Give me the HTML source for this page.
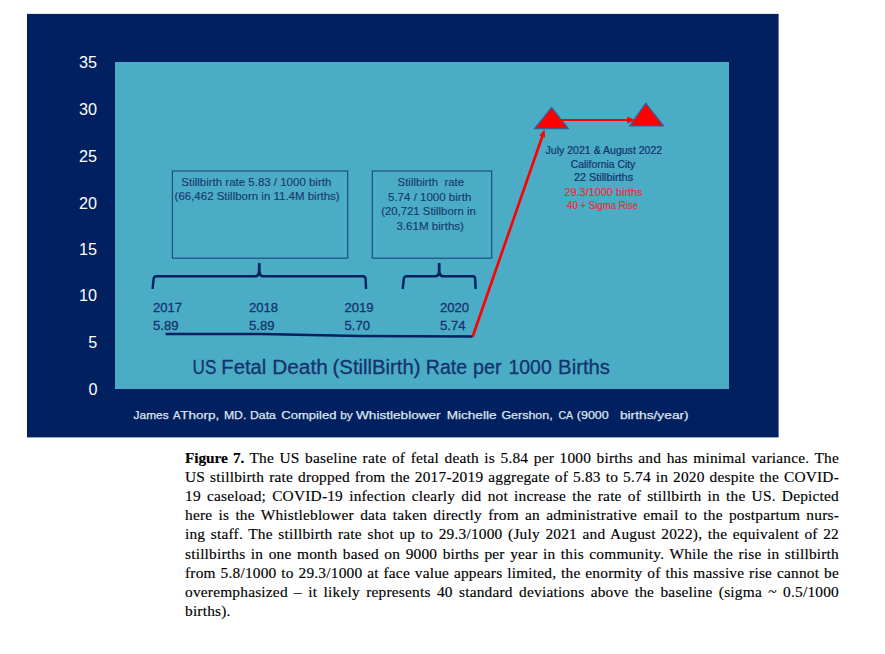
<!DOCTYPE html>
<html><head><meta charset="utf-8">
<style>
html,body{margin:0;padding:0;background:#fff;width:885px;height:654px;overflow:hidden;}
svg{position:absolute;left:0;top:0;}
.cap{position:absolute;left:185px;top:1.5px;width:654px;font-family:"Liberation Serif",serif;font-size:15.4px;letter-spacing:0.2px;-webkit-text-stroke:0.15px #000;color:#000;white-space:nowrap;}
.cap div{position:absolute;left:0;width:654px;height:19px;text-align:justify;text-align-last:justify;white-space:normal;}
.cap div.last{text-align-last:left;}
.cap b{letter-spacing:-0.1px;}
</style></head>
<body>
<svg width="885" height="654" viewBox="0 0 885 654">
  <rect x="27" y="13.9" width="751.6" height="423.5" fill="#002060"/>
  <rect x="115" y="62" width="614" height="327" fill="#4BACC6"/>
  <g font-family="Liberation Sans, sans-serif" font-size="16.9" fill="#ffffff" text-anchor="end">
    <text x="97" y="68.1" textLength="18" lengthAdjust="spacingAndGlyphs">35</text>
    <text x="97" y="114.9" textLength="18" lengthAdjust="spacingAndGlyphs">30</text>
    <text x="97" y="161.7" textLength="18" lengthAdjust="spacingAndGlyphs">25</text>
    <text x="97" y="208.5" textLength="18" lengthAdjust="spacingAndGlyphs">20</text>
    <text x="97" y="255.2" textLength="18" lengthAdjust="spacingAndGlyphs">15</text>
    <text x="97" y="301.4" textLength="18" lengthAdjust="spacingAndGlyphs">10</text>
    <text x="97.3" y="348.4" textLength="9" lengthAdjust="spacingAndGlyphs">5</text>
    <text x="97.6" y="395" textLength="9" lengthAdjust="spacingAndGlyphs">0</text>
  </g>
  <!-- boxes -->
  <rect x="172.4" y="171" width="175.3" height="87.2" fill="none" stroke="#1d4a82" stroke-width="1.15"/>
  <rect x="372.3" y="171" width="119.4" height="87.2" fill="none" stroke="#1d4a82" stroke-width="1.15"/>
  <g font-family="Liberation Sans, sans-serif" font-size="10.9" fill="#173870" stroke="#173870" stroke-width="0.12" lengthAdjust="spacingAndGlyphs">
    <text x="181.3" y="185.7" textLength="150" lengthAdjust="spacingAndGlyphs">Stillbirth rate 5.83 / 1000 birth</text>
    <text x="174.6" y="200.4" textLength="165" lengthAdjust="spacingAndGlyphs">(66,462 Stillborn in 11.4M births)</text>
    <text x="397.6" y="185.7" textLength="66.5" lengthAdjust="spacingAndGlyphs">Stillbirth&#160; rate</text>
    <text x="388" y="200.5" textLength="83.3" lengthAdjust="spacingAndGlyphs">5.74 / 1000 birth</text>
    <text x="381.2" y="215" textLength="94.6" lengthAdjust="spacingAndGlyphs">(20,721 Stillborn in</text>
    <text x="396.4" y="229.7" textLength="67.6" lengthAdjust="spacingAndGlyphs">3.61M births)</text>
  </g>
  <!-- braces -->
  <g fill="none" stroke="#002060" stroke-width="2.4" stroke-linecap="butt" stroke-linejoin="round">
    <path d="M152.6 289 L153.6 278.8 Q154 276.3 156.5 276.3 L255.5 276.3 Q258.5 276.1 258.9 272.5 L259.2 263.3"/>
    <path d="M259.2 263.3 L259.5 272.5 Q259.9 276.1 263 276.3 L363 276.3 Q365.3 276.3 365.6 278.8 L366 289"/>
    <path d="M402.7 289 L403.8 278.8 Q404.2 276.3 406.7 276.3 L435.5 276.3 Q438.5 276.1 438.9 272.5 L439.1 263.1"/>
    <path d="M439.1 263.1 L439.4 272.5 Q439.8 276.1 443 276.3 L472.7 276.3 Q475 276.3 475.2 278.8 L475.6 289"/>
  </g>
  <!-- years -->
  <g font-family="Liberation Sans, sans-serif" font-size="13.1" fill="#14336e" stroke="#14336e" stroke-width="0.3">
    <text x="153" y="312.2">2017</text>
    <text x="153" y="329.9">5.89</text>
    <text x="249" y="312.2">2018</text>
    <text x="249" y="329.9">5.89</text>
    <text x="344.5" y="312.2">2019</text>
    <text x="344.5" y="329.9">5.70</text>
    <text x="440" y="312.2">2020</text>
    <text x="440" y="329.9">5.74</text>
  </g>
  <polyline points="165.6,334.0 262,334.1 358,336.0 472.5,336.5" fill="none" stroke="#002060" stroke-width="2.5"/>
  <!-- red arrows -->
  <line x1="472.6" y1="336.8" x2="542.6" y2="135.5" stroke="#ff0000" stroke-width="2.7"/>
  <polygon points="544.6,129.6 539.3,135.4 545.1,137.5" fill="#ff0000"/>
  <polygon points="551.5,107.6 534.8,128.6 568.2,128.6" fill="#ff0000" stroke="#3b5b94" stroke-width="1.4"/>
  <polygon points="645.8,103.4 629.9,125.9 663.4,125.9" fill="#ff0000" stroke="#3b5b94" stroke-width="1.4"/>
  <line x1="558" y1="120" x2="628" y2="120" stroke="#ff0000" stroke-width="2.1"/>
  <polygon points="634.6,120 627.2,116.6 627.2,123.4" fill="#ff0000"/>
  <g font-family="Liberation Sans, sans-serif" font-size="10.1">
    <text x="545.6" y="154.3" fill="#14336e" stroke="#14336e" stroke-width="0.2" textLength="116.6" lengthAdjust="spacingAndGlyphs">July 2021 &amp; August 2022</text>
    <text x="570.7" y="167.9" fill="#14336e" stroke="#14336e" stroke-width="0.2" textLength="64.6" lengthAdjust="spacingAndGlyphs">California City</text>
    <text x="573.9" y="181.4" fill="#14336e" stroke="#14336e" stroke-width="0.2" textLength="59.2" lengthAdjust="spacingAndGlyphs">22 Stillbirths</text>
    <text x="564.4" y="195.7" fill="#ec2a33" stroke="#ec2a33" stroke-width="0.15" textLength="78.2" lengthAdjust="spacingAndGlyphs">29.3/1000 births</text>
    <text x="567" y="209.1" fill="#ec2a33" stroke="#ec2a33" stroke-width="0.15" textLength="71.2" lengthAdjust="spacingAndGlyphs">40 + Sigma Rise</text>
  </g>
  <g font-family="Liberation Sans, sans-serif" font-size="20" fill="#14336e" stroke="#14336e" stroke-width="0.3">
    <text x="192.55" y="374.1" textLength="23.75" lengthAdjust="spacingAndGlyphs">US</text>
    <text x="221.39" y="374.1" textLength="44.86" lengthAdjust="spacingAndGlyphs">Fetal</text>
    <text x="272.16" y="374.1" textLength="55.72" lengthAdjust="spacingAndGlyphs">Death</text>
    <text x="332.58" y="374.1" textLength="87.99" lengthAdjust="spacingAndGlyphs">(StillBirth)</text>
    <text x="425.82" y="374.1" textLength="41.40" lengthAdjust="spacingAndGlyphs">Rate</text>
    <text x="473.12" y="374.1" textLength="28.45" lengthAdjust="spacingAndGlyphs">per</text>
    <text x="508.43" y="374.1" textLength="43.29" lengthAdjust="spacingAndGlyphs">1000</text>
    <text x="558.08" y="374.1" textLength="51.92" lengthAdjust="spacingAndGlyphs">Births</text>
  </g>
  <g font-family="Liberation Sans, sans-serif" font-size="11.6" fill="#dfe4ef" stroke="#dfe4ef" stroke-width="0.25">
    <text x="133.60" y="418.6" textLength="34.99" lengthAdjust="spacingAndGlyphs">James</text>
    <text x="172.90" y="418.6" textLength="7.54" lengthAdjust="spacingAndGlyphs">A</text>
    <text x="180.30" y="418.6" textLength="38.96" lengthAdjust="spacingAndGlyphs">Thorp,</text>
    <text x="223.90" y="418.6" textLength="22.43" lengthAdjust="spacingAndGlyphs">MD.</text>
    <text x="250.00" y="418.6" textLength="25.92" lengthAdjust="spacingAndGlyphs">Data</text>
    <text x="281.30" y="418.6" textLength="55.10" lengthAdjust="spacingAndGlyphs">Compiled</text>
    <text x="340.20" y="418.6" textLength="12.49" lengthAdjust="spacingAndGlyphs">by</text>
    <text x="356.00" y="418.6" textLength="84.64" lengthAdjust="spacingAndGlyphs">Whistleblower</text>
    <text x="446.70" y="418.6" textLength="49.82" lengthAdjust="spacingAndGlyphs">Michelle</text>
    <text x="501.40" y="418.6" textLength="51.24" lengthAdjust="spacingAndGlyphs">Gershon,</text>
    <text x="558.50" y="418.6" textLength="14.66" lengthAdjust="spacingAndGlyphs">CA</text>
    <text x="576.80" y="418.6" textLength="31.98" lengthAdjust="spacingAndGlyphs">(9000</text>
    <text x="619.90" y="418.6" textLength="68.83" lengthAdjust="spacingAndGlyphs">births/year)</text>
  </g>
</svg>
<div class="cap">
  <div style="top:447px"><b>Figure 7.</b> The US baseline rate of fetal death is 5.84 per 1000 births and has minimal variance. The</div>
  <div style="top:466.2px">US stillbirth rate dropped from the 2017-2019 aggregate of 5.83 to 5.74 in 2020 despite the COVID-</div>
  <div style="top:485.4px">19 caseload; COVID-19 infection clearly did not increase the rate of stillbirth in the US. Depicted</div>
  <div style="top:504.6px">here is the Whistleblower data taken directly from an administrative email to the postpartum nurs-</div>
  <div style="top:523.8px">ing staff. The stillbirth rate shot up to 29.3/1000 (July 2021 and August 2022), the equivalent of 22</div>
  <div style="top:543px">stillbirths in one month based on 9000 births per year in this community. While the rise in stillbirth</div>
  <div style="top:562.2px">from 5.8/1000 to 29.3/1000 at face value appears limited, the enormity of this massive rise cannot be</div>
  <div style="top:581.4px">overemphasized – it likely represents 40 standard deviations above the baseline (sigma ~ 0.5/1000</div>
  <div class="last" style="top:600.6px">births).</div>
</div>
</body></html>
